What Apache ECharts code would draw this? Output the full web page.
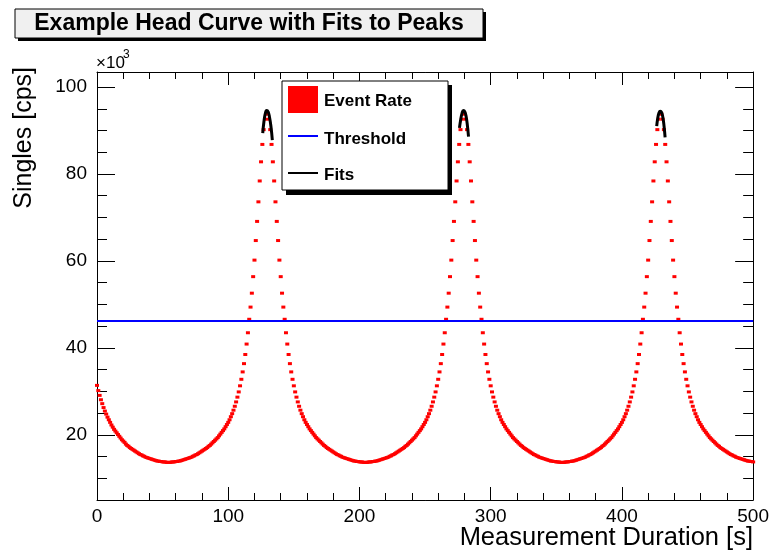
<!DOCTYPE html>
<html><head><meta charset="utf-8">
<script src="https://cdn.jsdelivr.net/npm/echarts@6/dist/echarts.min.js"></script>
<style>html,body{margin:0;padding:0;background:#fff}#c{width:772px;height:551px}</style>
</head><body><div id="c"></div>
<script>
// Event rate in units of 10^3 cps, one sample per second from t = 0 s to t = 500 s
const eventRate = [
31.4,30.2,29.1,28.1,27.2,26.3,25.5,24.8,24.1,23.5,22.9,22.3,21.8,21.3,20.9,20.5,20.1,19.7,19.3,18.9,18.6,18.3,
17.9,17.6,17.4,17.1,16.9,16.7,16.5,16.3,16.1,15.9,15.7,15.5,15.4,15.2,15.1,14.9,14.8,14.7,
14.6,14.5,14.4,14.3,14.2,14.1,14.0,14.0,13.9,13.9,13.8,13.8,13.8,13.7,13.7,
13.7,13.7,13.8,13.8,13.8,13.9,13.9,14.0,14.0,14.1,14.2,14.3,14.4,14.5,14.6,14.7,14.8,14.9,15.1,15.2,
15.4,15.5,15.7,15.9,16.1,16.3,16.5,16.7,16.9,17.1,17.4,17.6,17.9,18.2,18.5,18.8,19.1,19.4,19.8,20.2,
20.6,21.0,21.4,21.9,22.4,22.9,23.5,24.2,24.9,25.7,26.6,27.6,28.7,29.9,31.3,32.8,34.5,36.4,38.5,40.9,
43.5,46.6,49.4,52.6,56.4,60.2,64.7,69.1,73.6,78.4,82.8,86.8,90.2,92.6,93.8,
93.8,92.6,90.2,86.8,82.8,78.4,73.6,69.1,64.7,60.2,56.4,52.6,49.4,46.6,43.5,40.9,38.5,36.4,34.5,32.8,
31.3,29.9,28.7,27.6,26.6,25.7,24.9,24.2,23.5,22.9,22.4,21.9,21.4,21.0,20.6,20.2,19.8,19.4,19.1,18.8,
18.5,18.2,17.9,17.6,17.4,17.1,16.9,16.7,16.5,16.3,16.1,15.9,15.7,15.5,15.4,15.2,15.1,14.9,14.8,14.7,
14.6,14.5,14.4,14.3,14.2,14.1,14.0,14.0,13.9,13.9,13.8,13.8,13.8,13.7,13.7,
13.7,13.7,13.8,13.8,13.8,13.9,13.9,14.0,14.0,14.1,14.2,14.3,14.4,14.5,14.6,14.7,14.8,14.9,15.1,15.2,
15.4,15.5,15.7,15.9,16.1,16.3,16.5,16.7,16.9,17.1,17.4,17.6,17.9,18.2,18.5,18.8,19.1,19.4,19.8,20.2,
20.6,21.0,21.4,21.9,22.4,22.9,23.5,24.2,24.9,25.7,26.6,27.6,28.7,29.9,31.3,32.8,34.5,36.4,38.5,40.9,
43.5,46.6,49.4,52.6,56.4,60.2,64.7,69.1,73.6,78.4,82.8,86.8,90.2,92.6,93.8,
93.8,92.6,90.2,86.8,82.8,78.4,73.6,69.1,64.7,60.2,56.4,52.6,49.4,46.6,43.5,40.9,38.5,36.4,34.5,32.8,
31.3,29.9,28.7,27.6,26.6,25.7,24.9,24.2,23.5,22.9,22.4,21.9,21.4,21.0,20.6,20.2,19.8,19.4,19.1,18.8,
18.5,18.2,17.9,17.6,17.4,17.1,16.9,16.7,16.5,16.3,16.1,15.9,15.7,15.5,15.4,15.2,15.1,14.9,14.8,14.7,
14.6,14.5,14.4,14.3,14.2,14.1,14.0,14.0,13.9,13.9,13.8,13.8,13.8,13.7,13.7,
13.7,13.7,13.8,13.8,13.8,13.9,13.9,14.0,14.0,14.1,14.2,14.3,14.4,14.5,14.6,14.7,14.8,14.9,15.1,15.2,
15.4,15.5,15.7,15.9,16.1,16.3,16.5,16.7,16.9,17.1,17.4,17.6,17.9,18.2,18.5,18.8,19.1,19.4,19.8,20.2,
20.6,21.0,21.4,21.9,22.4,22.9,23.5,24.2,24.9,25.7,26.6,27.6,28.7,29.9,31.3,32.8,34.5,36.4,38.5,40.9,
43.5,46.6,49.4,52.6,56.4,60.2,64.7,69.1,73.6,78.4,82.8,86.8,90.2,92.6,93.8,
93.8,92.6,90.2,86.8,82.8,78.4,73.6,69.1,64.7,60.2,56.4,52.6,49.4,46.6,43.5,40.9,38.5,36.4,34.5,32.8,
31.3,29.9,28.7,27.6,26.6,25.7,24.9,24.2,23.5,22.9,22.4,21.9,21.4,21.0,20.6,20.2,19.8,19.4,19.1,18.8,
18.5,18.2,17.9,17.6,17.4,17.1,16.9,16.7,16.5,16.3,16.1,15.9,15.7,15.5,15.4,15.2,15.1,14.9,14.8,14.7,
14.6,14.5,14.4,14.3,14.2,14.1,14.0,14.0,13.9,13.9,13.8
];
const sampleStepSec = 1;
const thresholdLevel = 46.2;
const fit1X = [126.3,127.2,128.2,129.3,130.4,131.5,132.6,133.6];
const fit1Y = [89.4,92.0,93.8,94.6,94.3,93.0,90.8,87.8];
const fit2X = [276.2,277.2,278.2,279.2,280.3,281.4,282.3,283.1];
const fit2Y = [90.6,92.6,94.0,94.6,94.3,93.0,91.0,88.6];
const fit3X = [426.5,427.3,428.2,429.2,430.2,431.2,432.1,432.9];
const fit3Y = [91.0,92.8,94.0,94.4,94.2,93.0,91.0,88.4];
const xTicks = [0,100,200,300,400,500];
const yMajorTicks = [20,40,60,80,100];
const yMinorTicks = [10,15,25,30,35,45,50,55,65,70,75,85,90,95];
const yMin = 5.05, yMax = 103.45;

const FONT = '"Liberation Sans", Arial, Helvetica, sans-serif';
const pts = eventRate.map((v,i)=>[i*sampleStepSec, v]);
const zip = (xs,ys)=>xs.map((x,i)=>[x,ys[i]]);

function xAx(pos, showLabel){
  return {type:'value', min:xTicks[0], max:xTicks[xTicks.length-1], interval:100, position:pos,
    axisLine:{show:true,onZero:false,lineStyle:{color:'#000',width:1}},
    axisTick:{show:true,inside:true,length:13,lineStyle:{color:'#000',width:1}},
    minorTick:{show:true,splitNumber:5,length:7,lineStyle:{color:'#000',width:1}},
    axisLabel:{show:showLabel,fontSize:19,color:'#000',fontFamily:FONT,margin:7},
    splitLine:{show:false}};
}
function yAx(pos, major, showLine, showLabel){
  const o = {type:'value', min:yMin, max:yMax, position:pos,
    axisLine:{show:showLine,onZero:false,lineStyle:{color:'#000',width:1}},
    axisTick:{show:true,inside:true,length:major?18:10,customValues:major?yMajorTicks:yMinorTicks,lineStyle:{color:'#000',width:1}},
    axisLabel:{show:showLabel,fontSize:19,color:'#000',fontFamily:FONT,margin:10},
    splitLine:{show:false}};
  if(showLabel) o.axisLabel.customValues = yMajorTicks;
  return o;
}

const chart = echarts.init(document.getElementById('c'));
chart.setOption({
  animation:false,
  backgroundColor:'#fff',
  grid:{left:97,right:18,top:72,bottom:51},
  xAxis:[xAx('bottom',true), xAx('top',false)],
  yAxis:[yAx('left',true,true,true), yAx('left',false,false,false), yAx('right',true,true,false), yAx('right',false,false,false)],
  series:[
    {name:'Event Rate',type:'scatter',data:pts,xAxisIndex:0,yAxisIndex:0,
     symbol:'rect',symbolSize:[4,3],
     itemStyle:{color:'#ff0000',opacity:1},silent:true},
    {name:'Threshold',type:'line',data:[[xTicks[0],thresholdLevel],[xTicks[xTicks.length-1],thresholdLevel]],
     symbol:'none',lineStyle:{color:'#0000ff',width:2},silent:true},
    {name:'Fits',type:'line',data:zip(fit1X,fit1Y),smooth:true,symbol:'none',lineStyle:{color:'#000',width:3},silent:true},
    {name:'Fits',type:'line',data:zip(fit2X,fit2Y),smooth:true,symbol:'none',lineStyle:{color:'#000',width:3},silent:true},
    {name:'Fits',type:'line',data:zip(fit3X,fit3Y),smooth:true,symbol:'none',lineStyle:{color:'#000',width:3},silent:true}
  ],
  graphic:[
    {type:'rect',shape:{x:18,y:12,width:468,height:29},style:{fill:'#000'},z:100},
    {type:'rect',shape:{x:15,y:9,width:468,height:29},style:{fill:'#f0f0f0',stroke:'#000',lineWidth:1},z:101},
    {type:'text',x:249,y:24,z:102,style:{text:'Example Head Curve with Fits to Peaks',font:'bold 23px '+FONT,fill:'#000',textAlign:'center',textVerticalAlign:'middle'}},
    {type:'rect',shape:{x:286,y:85,width:166,height:110},style:{fill:'#000'},z:100},
    {type:'rect',shape:{x:282,y:81,width:166,height:109},style:{fill:'#fff',stroke:'#000',lineWidth:1},z:101},
    {type:'rect',shape:{x:288,y:86,width:30,height:27},style:{fill:'#ff0000'},z:102},
    {type:'text',x:324,y:101,z:102,style:{text:'Event Rate',font:'bold 17px '+FONT,fill:'#000',textVerticalAlign:'middle'}},
    {type:'line',shape:{x1:288,y1:136,x2:318,y2:136},style:{stroke:'#0000ff',lineWidth:2},z:102},
    {type:'text',x:324,y:139,z:102,style:{text:'Threshold',font:'bold 17px '+FONT,fill:'#000',textVerticalAlign:'middle'}},
    {type:'line',shape:{x1:288,y1:173,x2:318,y2:173},style:{stroke:'#000',lineWidth:2},z:102},
    {type:'text',x:324,y:175,z:102,style:{text:'Fits',font:'bold 17px '+FONT,fill:'#000',textVerticalAlign:'middle'}},
    {type:'text',x:753,y:538,z:102,style:{text:'Measurement Duration [s]',font:'25.5px '+FONT,fill:'#000',textAlign:'right',textVerticalAlign:'middle'}},
    {type:'text',x:24,y:67,rotation:Math.PI/2,z:102,style:{text:'Singles [cps]',font:'25px '+FONT,fill:'#000',textAlign:'right',textVerticalAlign:'middle'}},
    {type:'text',x:96,y:63,z:102,style:{text:'×10',font:'17px '+FONT,fill:'#000',textVerticalAlign:'middle'}},
    {type:'text',x:123,y:55,z:102,style:{text:'3',font:'12px '+FONT,fill:'#000',textVerticalAlign:'middle'}}
  ]
});
</script></body></html>
